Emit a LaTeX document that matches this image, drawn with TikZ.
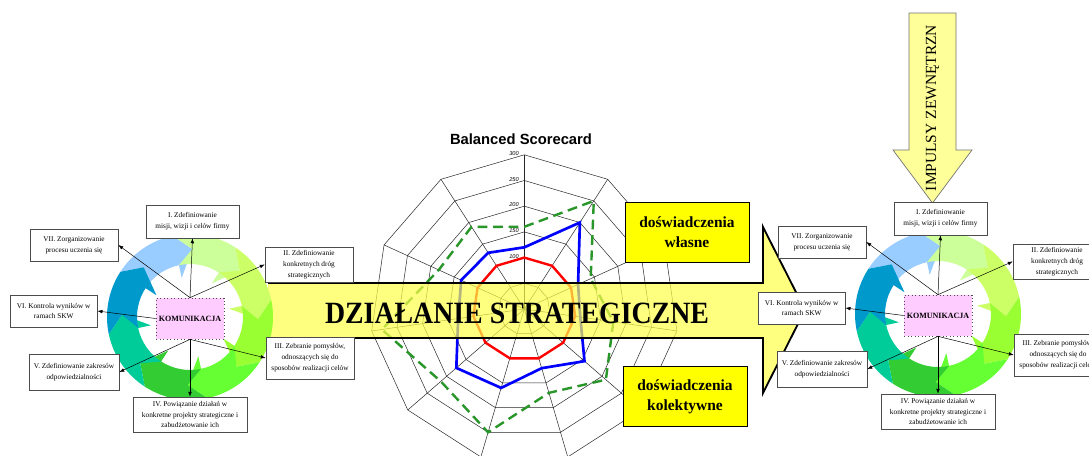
\documentclass[tikz,border=0pt]{standalone}
\usepackage{fontspec}
\setmainfont{Liberation Serif}
\newfontfamily\arialf{Liberation Sans}
\usetikzlibrary{arrows.meta}
\definecolor{cA}{RGB}{153,204,255}
\definecolor{cB}{RGB}{204,255,153}
\definecolor{cC}{RGB}{204,255,102}
\definecolor{cD}{RGB}{153,255,51}
\definecolor{cE}{RGB}{102,255,51}
\definecolor{cF}{RGB}{51,204,51}
\definecolor{cG}{RGB}{0,204,153}
\definecolor{cH}{RGB}{0,153,204}
\definecolor{komfill}{RGB}{255,204,255}
\definecolor{bandfill}{RGB}{255,255,74}
\definecolor{impfill}{RGB}{255,255,153}
\definecolor{dgreen}{RGB}{40,150,40}
\definecolor{ryellow}{RGB}{255,255,0}
\newcommand{\rp}[2]{({524.3+0.514*(#2)*sin((#1)*360/11)},{309-0.514*(#2)*cos((#1)*360/11)})}
\tikzset{
  gridline/.style={draw=black!85, line width=0.35pt},
  cbox/.style={draw=black!70, fill=white, line width=0.4pt, align=center, inner sep=0pt,
    font=\fontsize{5.2}{7.8}\selectfont},
  kom/.style={draw=black!70, dotted, fill=komfill, line width=0.5pt, inner sep=0pt,
    minimum width=1.7cm, minimum height=1.025cm, font=\bfseries\fontsize{5.7}{7}\selectfont},
  conn/.style={-{Latex[length=3.5pt,width=2.6pt]}, line width=0.35pt},
  ybox/.style={draw=black, line width=0.5pt, fill=ryellow, align=center, inner sep=0pt,
    minimum width=3.1cm, minimum height=1.5cm, font=\bfseries\fontsize{11}{14.5}\selectfont},
  seriesblue/.style={draw=blue, line width=1.9pt, line join=miter},
  seriesred/.style={draw=red, line width=1.7pt, line join=miter},
  seriesgreen/.style={draw=dgreen, line width=1.7pt, dash pattern=on 7pt off 4pt},
}
\newcommand{\drawcycle}[2]{%
\begin{scope}[shift={#2}]
\begin{scope}[y=0.025cm]
\foreach \sa/\cc in {147/cA,102/cB,57/cC,12/cD,-33/cE,-78/cF,-123/cG,-168/cH}{%
\pgfmathsetmacro{\ea}{\sa-45}%
\pgfmathsetmacro{\eb}{\sa-59}%
\pgfmathsetmacro{\sb}{\sa-14}%
\fill[\cc] (\sa:83) arc[start angle=\sa,end angle=\ea,radius=83] -- (\eb:68) -- (\ea:40) -- (\ea:53) arc[start angle=\ea,end angle=\sa,radius=53] -- (\sb:68) -- cycle;
}
\end{scope}
\node[kom] (#1kom) at (0,1.5) {KOMUNIKACJA};
\node[cbox, minimum width=2.325cm, minimum height=0.825cm] (#1b1) at (2.5,-95.5) {I. Zdefiniowanie\\misji, wizji i celów firmy};
\node[cbox, minimum width=2.2cm, minimum height=0.875cm] (#1b2) at (119,-52.5) {II. Zdefiniowanie\\konkretnych dróg\\strategicznych};
\node[cbox, minimum width=2.2cm, minimum height=1.05cm] (#1b3) at (120,41) {III. Zebranie pomysłów,\\odnoszących się do\\sposobów realizacji celów};
\node[cbox, minimum width=2.85cm, minimum height=0.875cm] (#1b4) at (0,97.5) {IV. Powiązanie działań w\\konkretne projekty strategiczne i\\zabudżetowanie ich};
\node[cbox, minimum width=2.25cm, minimum height=0.9cm] (#1b5) at (-116,55) {V. Zdefiniowanie zakresów\\odpowiedzialności};
\node[cbox, minimum width=2.175cm, minimum height=0.8cm] (#1b6) at (-136.3,-6) {VI. Kontrola wyników w\\ramach SKW};
\node[cbox, minimum width=2.2cm, minimum height=0.8cm] (#1b7) at (-116,-72) {VII. Zorganizowanie\\procesu uczenia się};
\draw[conn] (#1kom.north) -- (#1b1.south);
\draw[conn] (#1kom.north) -- (#1b2.west);
\draw[conn] (#1kom.north) -- (#1b7.east);
\draw[conn] (#1kom.west) -- (#1b6.east);
\draw[conn] (#1kom.south) -- (#1b4.north);
\draw[conn] (#1kom.south) -- (#1b5.east);
\draw[conn] (#1kom.south) -- (#1b3.west);
\end{scope}}
\begin{document}
\begin{tikzpicture}[x=0.025cm,y=-0.025cm]
\useasboundingbox (0,0) rectangle (1089,455);
\clip (0,0) rectangle (1089,455);
\fill[white] (0,0) rectangle (1089,455);
% radar grid
\foreach \v in {50,100,...,300}{
  \draw[gridline] \rp{0}{\v} \foreach \k in {1,...,10}{ -- \rp{\k}{\v} } -- cycle;
}
\foreach \k in {0,...,10}{ \draw[gridline] (524.3,309) -- \rp{\k}{300}; }
\node[font=\arialf\bfseries\fontsize{10.5}{12}\selectfont] (title) at (521,139) {Balanced Scorecard};
\foreach \v/\yy in {300/154,250/179.5,200/205,150/231,100/256.5}{
  \node[font=\arialf\itshape\fontsize{4}{4}\selectfont, anchor=east, inner sep=0pt] at (519,\yy) {\v};
}
% series
\draw[seriesred] \rp{0}{100} \foreach \k in {1,...,10}{ -- \rp{\k}{100} } -- cycle;
\draw[seriesblue] \rp{0}{120} -- \rp{1}{200} -- \rp{2}{115} -- \rp{3}{110} -- \rp{4}{155} -- \rp{5}{120} -- \rp{6}{160} -- \rp{7}{175} -- \rp{8}{130} -- \rp{9}{135} -- \rp{10}{130} -- cycle;
\draw[seriesgreen] \rp{0}{160} -- \rp{1}{250} -- \rp{2}{142} -- \rp{3}{175} -- \rp{4}{210} -- \rp{5}{170} -- \rp{6}{250} -- \rp{7}{215} -- \rp{8}{280} -- \rp{9}{183} -- \rp{10}{190} -- cycle;
% big arrow
\fill[bandfill, fill opacity=0.7] (268,283) -- (763,283) -- (763,227) -- (805,310) -- (763,393) -- (763,338) -- (268,338) -- cycle;
\draw[line width=1.3pt, line join=miter] (268,283) -- (763,283) -- (763,227) -- (805,310) -- (763,393) -- (763,338) -- (268,338);
\node[inner sep=0pt] (bandtext) at (517,313.5) {\scalebox{0.9}[1]{\bfseries\fontsize{22}{22}\selectfont DZIAŁANIE STRATEGICZNE}};
% yellow boxes
\node[ybox] (yw) at (687,232) {doświadczenia\\własne};
\node[ybox] (yk) at (685,396.5) {doświadczenia\\kolektywne};
% impulses arrow
\draw[fill=impfill, draw=black!55, line width=0.5pt] (909,13) -- (956,13) -- (956,150) -- (972,150) -- (932.5,203) -- (893,150) -- (909,150) -- cycle;
\node[rotate=90, inner sep=0pt, font=\fontsize{11}{11}\selectfont] (imp) at (932.5,108) {IMPULSY ZEWNĘTRZN};
% cycles
\drawcycle{L}{(190,317)}
\drawcycle{R}{(938,314)}
\end{tikzpicture}
\end{document}
